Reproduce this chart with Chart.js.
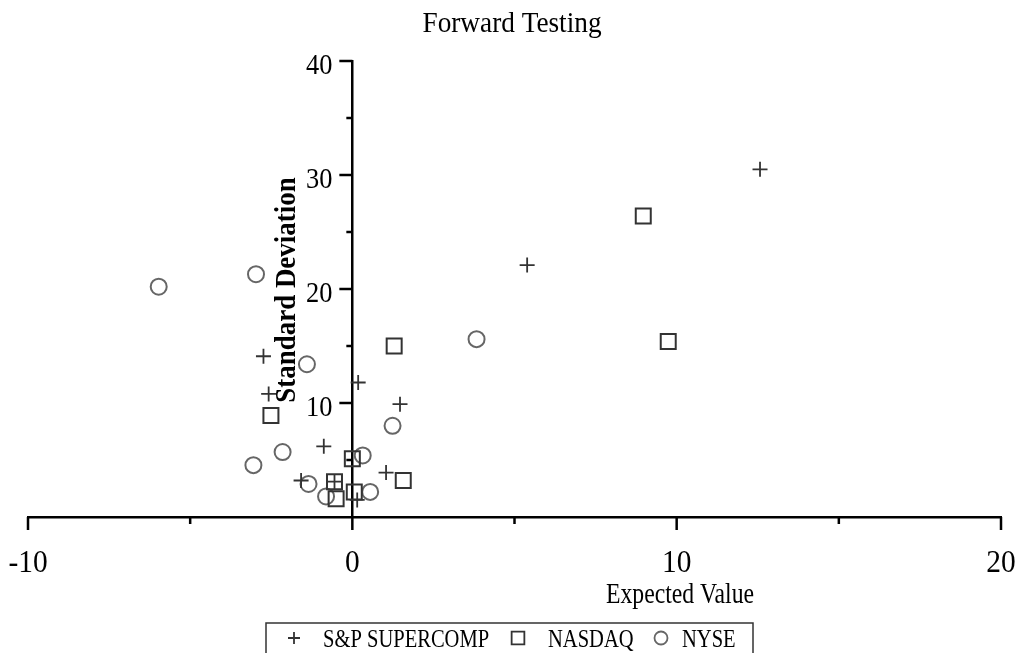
<!DOCTYPE html>
<html>
<head>
<meta charset="utf-8">
<script src="https://cdn.jsdelivr.net/npm/chart.js@4.4.0/dist/chart.umd.min.js"></script>
<style>
  html, body { margin: 0; padding: 0; background: #fff; }
  #wrap { width: 1021px; height: 653px; }
</style>
</head>
<body>
<div id="wrap"><canvas id="myChart"></canvas></div>
<script>
const spX = [12.57, 5.39, -2.74, -2.58, 0.18, 1.47, -0.88, -1.58, 1.04, -0.55, 0.15];
const spY = [30.5, 22.1, 14.1, 10.8, 11.8, 9.9, 6.2, 3.2, 3.9, 3.1, 1.5];
const nasdaqX = [8.97, 9.74, 1.29, -2.51, 0.0, 1.57, -0.55, -0.5, 0.06];
const nasdaqY = [26.4, 15.4, 15.0, 8.9, 5.1, 3.2, 3.1, 1.6, 2.2];
const nyseX = [-5.97, -2.97, 3.83, -1.4, 1.24, -3.05, -2.15, 0.32, -1.35, -0.81, 0.55];
const nyseY = [20.2, 21.3, 15.6, 13.4, 8.0, 4.55, 5.7, 5.4, 2.9, 1.8, 2.2];
const xTickLabels = [-10, 0, 10, 20];
const yTickLabels = [10, 20, 30, 40];
const seriesNames = ["S&P SUPERCOMP", "NASDAQ", "NYSE"];

const toPoints = (xs, ys) => xs.map((x, i) => ({ x: x, y: ys[i] }));

// condensed serif text, like the stretched picture
function drawText(ctx, text, x, y, font, sx, align, rot) {
  ctx.save();
  ctx.translate(x, y);
  if (rot) ctx.rotate(rot);
  ctx.scale(sx, 1);
  ctx.font = font;
  ctx.fillStyle = "#000";
  ctx.textAlign = align || "center";
  ctx.textBaseline = "alphabetic";
  ctx.fillText(text, 0, 0);
  ctx.restore();
}

const decor = {
  id: "decor",
  afterDraw(chart) {
    const ctx = chart.ctx;
    const xs = chart.scales.x;
    const ys = chart.scales.y;
    const x0 = xs.getPixelForValue(0);
    const y0 = ys.getPixelForValue(0);

    // tick marks
    ctx.save();
    ctx.strokeStyle = "#000";
    ctx.lineWidth = 2.5;
    xs.ticks.forEach(t => {
      const px = xs.getPixelForValue(t.value);
      const len = t.value % 10 === 0 ? 13 : 7;
      ctx.beginPath();
      ctx.moveTo(px, y0);
      ctx.lineTo(px, y0 + len);
      ctx.stroke();
    });
    ys.ticks.forEach(t => {
      if (t.value === 0) return;
      const py = ys.getPixelForValue(t.value);
      const len = t.value % 10 === 0 ? 13 : 6;
      ctx.beginPath();
      ctx.moveTo(x0, py);
      ctx.lineTo(x0 - len, py);
      ctx.stroke();
    });
    ctx.restore();

    // tick labels
    xTickLabels.forEach(v => {
      drawText(ctx, String(v), xs.getPixelForValue(v), 572, "32px 'Liberation Serif'", 0.92, "center");
    });
    yTickLabels.forEach(v => {
      drawText(ctx, String(v), x0 - 20, ys.getPixelForValue(v) + 13, "30px 'Liberation Serif'", 0.88, "right");
    });

    // titles
    drawText(ctx, "Forward Testing", 512, 32, "29px 'Liberation Serif'", 0.94, "center");
    drawText(ctx, "Expected Value", 680, 603, "30px 'Liberation Serif'", 0.79, "center");
    drawText(ctx, "Standard Deviation", 295, 290, "bold 29px 'Liberation Serif'", 0.93, "center", -Math.PI / 2);

    // legend
    ctx.save();
    ctx.strokeStyle = "#333";
    ctx.lineWidth = 1.5;
    ctx.strokeRect(266, 623, 487, 45);
    const marks = [
      { x: 294, style: "cross", r: 6, c: "#333" },
      { x: 518, style: "rect", r: 9, c: "#333" },
      { x: 661, style: "circle", r: 6.5, c: "#666" }
    ];
    const textX = [323, 548, 682];
    marks.forEach((m, i) => {
      ctx.strokeStyle = m.c;
      ctx.fillStyle = "rgba(0,0,0,0)";
      ctx.lineWidth = 1.8;
      Chart.helpers.drawPoint(ctx, { pointStyle: m.style, radius: m.r, borderWidth: 1.8, rotation: 0 }, m.x, 638);
      drawText(ctx, seriesNames[i], textX[i], 647, "26px 'Liberation Serif'", 0.79, "left");
    });
    ctx.restore();
  }
};

new Chart(document.querySelector("#myChart"), {
  type: "scatter",
  data: {
    datasets: [
      {
        label: seriesNames[0],
        data: toPoints(spX, spY),
        pointStyle: "cross",
        pointRadius: 7.5,
        borderColor: "#333",
        borderWidth: 1.8
      },
      {
        label: seriesNames[1],
        data: toPoints(nasdaqX, nasdaqY),
        pointStyle: "rect",
        pointRadius: 10.6,
        borderColor: "#333",
        backgroundColor: "rgba(0,0,0,0)",
        borderWidth: 2
      },
      {
        label: seriesNames[2],
        data: toPoints(nyseX, nyseY),
        pointStyle: "circle",
        pointRadius: 8,
        borderColor: "#666",
        backgroundColor: "rgba(0,0,0,0)",
        borderWidth: 2
      }
    ]
  },
  options: {
    responsive: true,
    maintainAspectRatio: false,
    animation: false,
    layout: { padding: { left: 28, right: 20, top: 61, bottom: 136 } },
    plugins: {
      legend: { display: false },
      title: { display: false },
      tooltip: { enabled: false }
    },
    scales: {
      x: {
        type: "linear",
        min: -10,
        max: 20,
        position: { y: 0 },
        ticks: { stepSize: 5, display: false },
        grid: { display: false },
        border: { display: true, color: "#000", width: 2.5 }
      },
      y: {
        type: "linear",
        min: 0,
        max: 40,
        position: { x: 0 },
        ticks: { stepSize: 5, display: false },
        grid: { display: false },
        border: { display: true, color: "#000", width: 2.5 }
      }
    }
  },
  plugins: [decor]
});
</script>
</body>
</html>
